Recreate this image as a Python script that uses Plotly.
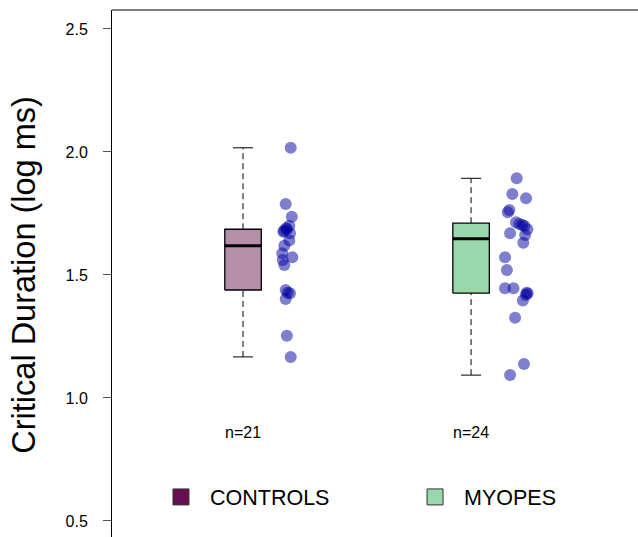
import numpy as np
import plotly.graph_objects as go

groups = ["CONTROLS", "MYOPES"]
group_pos = [1, 2]

controls = [2.017, 1.789, 1.737, 1.700, 1.690, 1.686, 1.680, 1.676, 1.670, 1.640,
            1.619, 1.588, 1.572, 1.561, 1.541, 1.439, 1.428, 1.426, 1.402, 1.253, 1.167]
controls_jitter = [0.209, 0.187, 0.214, 0.203, 0.189, 0.192, 0.180, 0.177, 0.206, 0.203,
                   0.181, 0.172, 0.216, 0.174, 0.181, 0.187, 0.196, 0.206, 0.187, 0.192, 0.209]

myopes = [1.893, 1.829, 1.812, 1.764, 1.755, 1.714, 1.707, 1.703, 1.699, 1.686,
          1.670, 1.663, 1.631, 1.572, 1.520, 1.446, 1.446, 1.428, 1.425, 1.419,
          1.396, 1.326, 1.138, 1.093]
myopes_jitter = [0.200, 0.181, 0.241, 0.168, 0.161, 0.197, 0.212, 0.225, 0.234, 0.247,
                 0.171, 0.237, 0.229, 0.149, 0.157, 0.149, 0.186, 0.244, 0.248, 0.240,
                 0.227, 0.193, 0.232, 0.171]

box_fill = ["#B58FA8", "#98D8AA"]
legend_fill = ["#670F50", "#98D8AA"]
y_ticks = [0.5, 1.0, 1.5, 2.0, 2.5]

def fivenum(v):
    v = np.sort(np.asarray(v))
    n = len(v)
    n4 = np.floor((n + 3) / 2) / 2
    d = np.array([1, n4, (n + 1) / 2, n + 1 - n4, n])
    return 0.5 * (v[np.floor(d - 1).astype(int)] + v[np.ceil(d - 1).astype(int)])

fig = go.Figure()
point_color = "rgba(0,0,160,0.5)"
bw = 0.08
cw = 0.044

for gi, (vals, jit) in enumerate([(controls, controls_jitter), (myopes, myopes_jitter)]):
    xc = group_pos[gi]
    mn, q1, med, q3, mx = fivenum(vals)
    iqr = q3 - q1
    arr = np.array(vals)
    lo = arr[arr >= q1 - 1.5 * iqr].min()
    hi = arr[arr <= q3 + 1.5 * iqr].max()
    for a, b in [(q3, hi), (lo, q1)]:
        fig.add_trace(go.Scatter(x=[xc, xc], y=[a, b], mode="lines",
                                 line=dict(color="black", width=1, dash="6px,4px"),
                                 showlegend=False, hoverinfo="skip"))
    for c in [hi, lo]:
        fig.add_trace(go.Scatter(x=[xc - cw, xc + cw], y=[c, c], mode="lines",
                                 line=dict(color="black", width=1),
                                 showlegend=False, hoverinfo="skip"))
    fig.add_trace(go.Scatter(x=[xc - bw, xc + bw, xc + bw, xc - bw, xc - bw],
                             y=[q1, q1, q3, q3, q1], mode="lines", fill="toself",
                             fillcolor=box_fill[gi], line=dict(color="black", width=1.3),
                             showlegend=False, hoverinfo="skip"))
    fig.add_trace(go.Scatter(x=[xc - bw, xc + bw], y=[med, med], mode="lines",
                             line=dict(color="black", width=3),
                             showlegend=False, hoverinfo="skip"))
    fig.add_trace(go.Scatter(x=[xc + j for j in jit], y=vals, mode="markers",
                             marker=dict(size=12, color=point_color, line=dict(width=0)),
                             showlegend=False))
    fig.add_annotation(x=xc, y=0.858, text="n=%d" % len(vals), showarrow=False,
                       font=dict(size=16, color="black"), xanchor="center", yanchor="middle")

legend_names = ["legend", "legend2"]
for gi, g in enumerate(groups):
    fig.add_trace(go.Scatter(x=[None], y=[None], mode="markers", name=g,
                             legend=legend_names[gi],
                             marker=dict(symbol="square", size=16, color=legend_fill[gi],
                                         line=dict(color="#333333", width=1))))

fig.add_annotation(xref="paper", yref="paper", x=-0.168, y=0.497,
                   text="Critical Duration (log ms)", textangle=-90, showarrow=False,
                   font=dict(size=32.5, color="black"), xanchor="center", yanchor="middle")

fig.add_shape(type="line", xref="paper", yref="paper", x0=0, x1=1, y0=1, y1=1,
              line=dict(color="black", width=1))

leg_common = dict(orientation="h", y=0.076, xanchor="left", yanchor="middle",
                  font=dict(size=21.5, color="black"), itemwidth=48,
                  bgcolor="rgba(0,0,0,0)")

fig.update_layout(
    width=638, height=537,
    margin=dict(l=112, r=0, t=10, b=0),
    plot_bgcolor="white", paper_bgcolor="white",
    font=dict(family="Liberation Sans, Arial, sans-serif", color="black"),
    xaxis=dict(range=[0.4254, 2.732], visible=False),
    yaxis=dict(range=[0.4349, 2.5772], tickvals=y_ticks, tickformat=".1f",
               showgrid=False, zeroline=False, showline=True, linecolor="black",
               linewidth=1, ticks="outside", ticklen=8, tickcolor="#555555",
               tickfont=dict(size=16, color="black"), ticklabelstandoff=12),
    legend=dict(x=0.076, **leg_common),
    legend2=dict(x=0.559, **leg_common),
)

fig.write_html("out.html", config={"displayModeBar": False},
               post_script="document.body.style.margin='0';document.body.style.padding='0';")
